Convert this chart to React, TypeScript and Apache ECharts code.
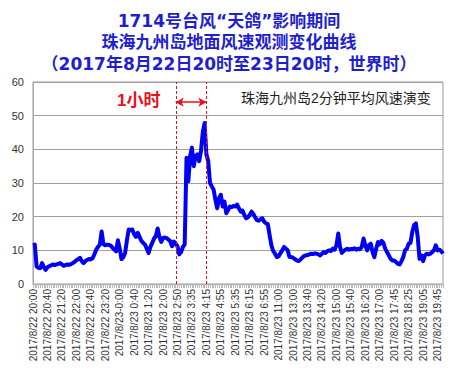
import React, { useEffect, useRef } from "react";
import * as echarts from "echarts";

const titleLines = [
  "1714号台风“天鸽”影响期间",
  "珠海九州岛地面风速观测变化曲线",
  "（2017年8月22日20时至23日20时，世界时）",
];

const seriesName = "珠海九州岛2分钟平均风速演变";
const spanLabel = "1小时";

const tickLabels = [
  "2017/8/22 20:00", "2017/8/22 20:40", "2017/8/22 21:20", "2017/8/22 22:00",
  "2017/8/22 22:40", "2017/8/22 23:20", "2017/8/23-0:00", "2017/8/23 0:40",
  "2017/8/23 1:20", "2017/8/23 2:00", "2017/8/23 2:50", "2017/8/23 3:35",
  "2017/8/23 4:15", "2017/8/23 4:55", "2017/8/23 5:35", "2017/8/23 6:15",
  "2017/8/23 6:55", "2017/8/23 11:00", "2017/8/23 13:00", "2017/8/23 13:40",
  "2017/8/23 14:20", "2017/8/23 15:00", "2017/8/23 15:40", "2017/8/23 16:20",
  "2017/8/23 17:00", "2017/8/23 17:45", "2017/8/23 18:25", "2017/8/23 19:05",
  "2017/8/23 19:45",
];

// 2-minute mean wind speed (m/s), one value per observation
const windSpeed = [
  11.5, 11.7, 5.2, 4.8, 4.7, 6.2, 5.0, 4.2, 5.0, 5.3,
  5.5, 5.8, 5.6, 5.8, 6.0, 6.2, 5.8, 5.4, 5.6, 5.8,
  5.7, 5.9, 6.2, 6.6, 7.0, 7.4, 7.8, 6.8, 6.2, 6.8,
  7.2, 7.4, 7.3, 7.7, 8.8, 10.2, 11.0, 11.7, 15.6, 11.8,
  11.5, 11.7, 11.6, 11.4, 10.8, 10.2, 9.7, 13.0, 10.5, 7.4,
  8.0, 9.2, 13.0, 16.2, 16.0, 16.2, 14.8, 14.0, 15.2, 14.0,
  12.8, 12.2, 11.7, 10.5, 9.2, 11.0, 12.2, 13.5, 14.2, 16.5,
  14.0, 12.5, 13.7, 13.8, 13.6, 13.2, 12.7, 11.2, 12.6, 12.0,
  11.2, 8.8, 9.5, 11.0, 11.8, 37.5, 30.5, 38.0, 40.5, 35.0,
  38.0, 38.5, 36.5, 39.5, 45.0, 47.8, 38.5, 36.5, 30.0, 29.0,
  28.0, 25.0, 22.5, 25.5, 26.5, 23.0, 24.5, 21.0, 22.0, 23.0,
  22.8, 23.2, 23.0, 23.6, 22.5, 21.5, 21.8, 20.5, 19.5, 19.8,
  20.5, 21.5, 20.8, 19.8, 19.0, 18.8, 19.2, 19.5, 18.5, 18.0,
  17.8, 14.5, 11.5, 9.8, 9.0, 8.0, 8.2, 9.2, 10.0, 11.0,
  10.5, 10.0, 8.0, 8.0, 7.8, 7.4, 7.0, 6.8, 7.2, 7.8,
  8.3, 8.5, 8.6, 8.8, 9.0, 8.9, 9.1, 9.0, 8.8, 8.5,
  9.0, 9.5, 9.2, 9.8, 10.0, 9.8, 10.5, 10.2, 11.5, 15.0,
  11.0, 9.2, 9.8, 10.2, 10.5, 10.2, 10.4, 10.3, 10.6, 10.2,
  10.5, 10.3, 11.0, 13.5, 11.5, 10.0, 11.5, 12.0, 9.5, 8.0,
  10.5, 12.5, 11.8, 12.8, 12.2, 10.5, 9.5, 8.5, 7.5, 7.0,
  7.0, 6.5, 6.0, 5.8, 6.8, 8.0, 10.0, 10.5, 12.0, 12.2,
  15.5, 17.5, 18.0, 14.0, 7.5, 8.5, 6.8, 8.5, 9.0, 8.8,
  9.0, 9.5, 10.0, 11.5, 10.0, 10.2, 9.8, 9.0,
];

const labelEvery = 8;
// observation indices bounding the one-hour window, and the arrow's height (m/s)
const spanStartIndex = 79;
const spanEndIndex = 96;
const arrowLevel = 54;
const yMin = 0;
const yMax = 60;

export default function App() {
  const ref = useRef<HTMLDivElement>(null);

  useEffect(() => {
    if (!ref.current) return;
    const chart = echarts.init(ref.current, undefined, { renderer: "svg" });
    const categories = windSpeed.map((_, i) =>
      i % labelEvery === 0 ? tickLabels[i / labelEvery] : `obs-${i}`
    );
    const red = "#e8101a";
    const font = '"Liberation Sans", "Noto Sans CJK SC", sans-serif';
    chart.setOption({
      animation: false,
      backgroundColor: "#ffffff",
      title: {
        text: titleLines.join("\n"),
        left: "center",
        top: 5,
        textStyle: {
          fontSize: 17,
          fontWeight: "bold",
          color: "#1f1fcf",
          lineHeight: 21.5,
          fontFamily: '"DejaVu Sans", "Noto Sans CJK SC", sans-serif',
        },
      },
      grid: {
        left: 33,
        right: 15,
        top: 82,
        bottom: 92,
        show: true,
        borderColor: "#9a9a9a",
        borderWidth: 1,
        backgroundColor: "transparent",
      },
      xAxis: {
        type: "category",
        data: categories,
        boundaryGap: false,
        axisLine: { lineStyle: { color: "#a8a8a8", width: 1 } },
        axisTick: {
          show: true,
          interval: 0,
          length: 4,
          lineStyle: { color: "#b8b8b8", width: 1 },
        },
        axisLabel: {
          interval: labelEvery - 1,
          rotate: 90,
          fontSize: 10,
          color: "#333333",
          margin: 5,
          fontFamily: '"Liberation Sans", Arial, sans-serif',
        },
        splitLine: { show: false },
      },
      yAxis: {
        type: "value",
        min: yMin,
        max: yMax,
        interval: 10,
        axisLine: { show: true, lineStyle: { color: "#a8a8a8" } },
        axisTick: { show: false },
        axisLabel: {
          fontSize: 11,
          color: "#333333",
          margin: 9,
          fontFamily: '"Liberation Sans", Arial, sans-serif',
        },
        splitLine: { lineStyle: { color: "#a0a0a0", width: 1 } },
      },
      series: [
        {
          name: seriesName,
          type: "line",
          data: windSpeed,
          showSymbol: false,
          symbol: "none",
          lineStyle: { color: "#0000f5", width: 4, join: "round" },
          itemStyle: { color: "#0000f5" },
          markLine: {
            silent: true,
            symbol: ["arrow", "arrow"],
            symbolSize: [7, 8],
            label: { show: false },
            animation: false,
            lineStyle: { color: red, type: "solid", width: 1.5 },
            emphasis: { disabled: true },
            data: [
              [
                { xAxis: spanStartIndex, yAxis: arrowLevel },
                { xAxis: spanEndIndex, yAxis: arrowLevel },
              ],
            ],
          },
        },
      ],
    });

    const toPx = (idx: number, v: number) =>
      chart.convertToPixel({ gridIndex: 0 }, [idx, v]) as number[];
    const vline = (idx: number) => {
      const a = toPx(idx, yMin);
      const b = toPx(idx, yMax);
      const x = Math.round(a[0]) + 0.5;
      return {
        type: "line",
        silent: true,
        z: 10,
        shape: { x1: x, y1: a[1], x2: x, y2: b[1] },
        style: { stroke: red, lineWidth: 1, lineDash: [3, 2] },
      };
    };

    chart.setOption({
      graphic: [
        vline(spanStartIndex),
        vline(spanEndIndex),
        {
          type: "text",
          left: 117,
          top: 92,
          style: {
            text: spanLabel,
            fill: red,
            fontSize: 17,
            fontWeight: "bold",
            fontFamily: font,
          },
        },
        {
          type: "text",
          left: 241,
          top: 91,
          style: {
            text: seriesName,
            fill: "#222222",
            fontSize: 14,
            fontFamily: font,
          },
        },
      ],
    });
    return () => chart.dispose();
  }, []);

  return (
    <div
      ref={ref}
      style={{ position: "fixed", left: 0, top: 0, width: 458, height: 376 }}
    />
  );
}
